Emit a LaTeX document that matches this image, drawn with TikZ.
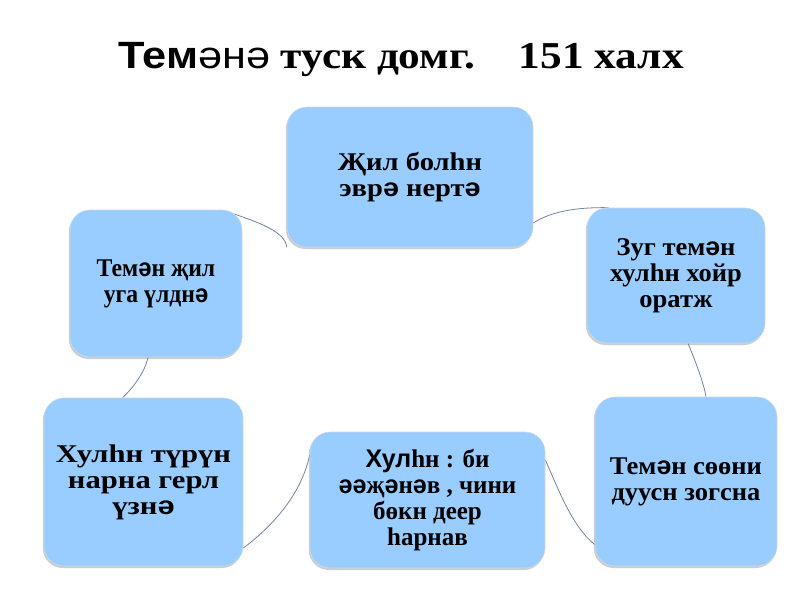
\documentclass[tikz,border=0pt]{standalone}
\usepackage{fontspec}
\setmainfont{Liberation Serif}
\newfontfamily\sansf{Liberation Sans}
\newfontfamily\serA[FakeStretch=1.12]{Liberation Serif}
\newfontfamily\sanA[FakeStretch=1.12]{Liberation Sans}
\newfontfamily\serL[FakeStretch=1.20]{Liberation Serif}
\newfontfamily\sanL[FakeStretch=1.20]{Liberation Sans}
\newfontfamily\serB[FakeStretch=1.04]{Liberation Serif}
\newfontfamily\sanB[FakeStretch=1.04]{Liberation Sans}
\newfontfamily\serC[FakeStretch=0.98]{Liberation Serif}
\newfontfamily\sanC[FakeStretch=0.98]{Liberation Sans}
\newfontfamily\serD[FakeStretch=0.93]{Liberation Serif}
\newfontfamily\sanD[FakeStretch=0.93]{Liberation Sans}
\newfontfamily\serT[FakeStretch=1.14]{Liberation Serif}
\newfontfamily\sanT[FakeStretch=1.14]{Liberation Sans}
\usetikzlibrary{shadows,backgrounds}
\definecolor{boxblue}{RGB}{153,204,255}
\definecolor{boxedge}{RGB}{205,218,232}
\definecolor{linkc}{RGB}{115,132,165}
\let\cursans\sansf
\newcommand\sch{{\cursans ә}}
\begin{document}
\begin{tikzpicture}[x=1pt,y=-1pt,
  cbox/.style={draw=boxedge, line width=0.6pt, fill=boxblue, rounded corners=20pt,
    drop shadow={shadow xshift=-1.2pt, shadow yshift=-2pt, opacity=0.4},
    align=center, inner sep=0pt},
  fA/.style={font=\fontsize{25.5}{26}\selectfont\serA\let\cursans\sanA\bfseries},
  fL/.style={font=\fontsize{25.5}{26}\selectfont\serL\let\cursans\sanL\bfseries},
  fB/.style={font=\fontsize{25.5}{26}\selectfont\serB\let\cursans\sanB\bfseries},
  fC/.style={font=\fontsize{25.5}{26}\selectfont\serC\let\cursans\sanC\bfseries},
  fD/.style={font=\fontsize{25.5}{26}\selectfont\serD\let\cursans\sanD\bfseries},
  link/.style={draw=linkc, line width=0.8pt},
  titlef/.style={font=\fontsize{38}{40}\selectfont\serT\bfseries}]
\useasboundingbox (0,0) rectangle (800,600);

\node[titlef, anchor=base] (title) at (401,68)
  {{\sanT Тем}{\sanT\mdseries әнә} туск домг.\hspace{44pt}151 халх};

\node[cbox, fA, minimum width=246pt, minimum height=140pt] (top) at (410,177)
  {Җил болһн\\эвр\sch{} нерт\sch};
\node[cbox, fB, minimum width=178pt, minimum height=135pt] (ur) at (676,275.5)
  {Зуг тем\sch н\\хулһн хойр\\оратж};
\node[cbox, fB, minimum width=182pt, minimum height=169pt] (lr) at (686,481.5)
  {Тем\sch н сөөни\\дуусн зогсна};
\node[cbox, fC, minimum width=235pt, minimum height=136pt] (bot) at (427.5,500)
  {{\cursans Хул}һн : би\\\sch\sch җ\sch н\sch в , чини\\бөкн деер\\һарнав};
\node[cbox, fL, minimum width=199pt, minimum height=168pt] (ll) at (143.5,482)
  {Хулһн түрүн\\нарна герл\\үзн\sch};
\node[cbox, fD, minimum width=172pt, minimum height=147pt] (ul) at (156,283.5)
  {Тем\sch н җил\\уга үлдн\sch};

\begin{scope}[on background layer]
  \fill[white] (0,0) rectangle (800,600);
  \draw[link] ([xshift=-12pt,yshift=-3pt]ul.north east) .. controls (258,222) and (286,232) .. (top.south west);
  \draw[link] ([yshift=-46pt]top.east) .. controls (550,212) and (575,207) .. ([xshift=22pt]ur.north west);
  \draw[link] ([xshift=12pt]ur.south) .. controls (694,358) and (703,380) .. ([xshift=20pt]lr.north);
  \draw[link] ([yshift=40pt]bot.east) .. controls (555,480) and (570,525) .. ([yshift=-63pt]lr.west);
  \draw[link] ([yshift=-66pt]ll.east) .. controls (265,532) and (300,500) .. ([yshift=45pt]bot.west);
  \draw[link] ([xshift=-8pt]ul.south) .. controls (145,372) and (133,388) .. ([xshift=-21pt]ll.north);
\end{scope}
\end{tikzpicture}
\end{document}
